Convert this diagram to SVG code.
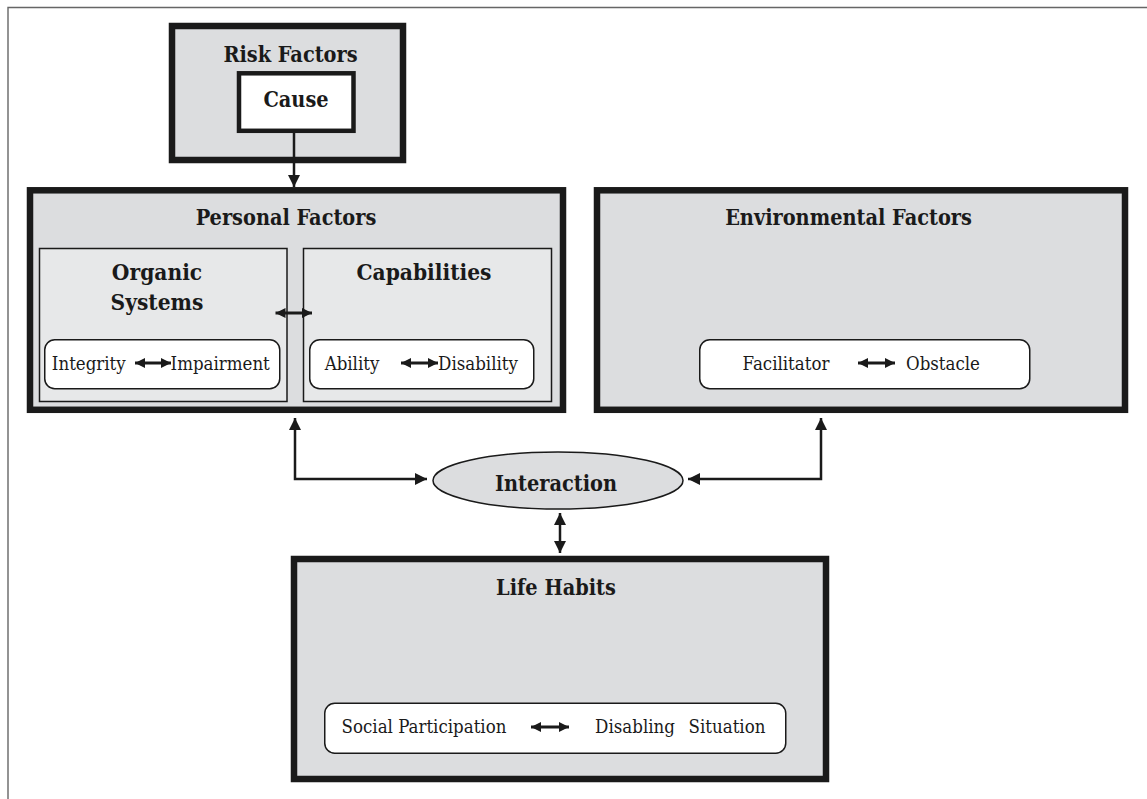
<svg xmlns="http://www.w3.org/2000/svg" width="1147" height="799" viewBox="0 0 1147 799">
<defs>
<style>
.box{fill:#dcdddf;stroke:#1a1a1a;stroke-width:6.5}
.sub{fill:#e7e8e9;stroke:#1a1a1a;stroke-width:1.5}
.pill{fill:#ffffff;stroke:#1a1a1a;stroke-width:1.5}
.ttl{font-family:"DejaVu Serif Condensed","DejaVu Serif","Liberation Serif",serif;font-stretch:condensed;font-weight:bold;font-size:21.5px;fill:#1a1a1a;text-anchor:middle}
.sttl{font-family:"DejaVu Serif Condensed","DejaVu Serif","Liberation Serif",serif;font-stretch:condensed;font-weight:bold;font-size:22.5px;fill:#1a1a1a;text-anchor:middle}
.txt{font-family:"DejaVu Serif Condensed","DejaVu Serif","Liberation Serif",serif;font-stretch:condensed;font-size:18.5px;fill:#1a1a1a;text-anchor:middle}
.conn{fill:none;stroke:#1a1a1a;stroke-width:2.5}
.dbl{fill:none;stroke:#1a1a1a;stroke-width:3}
</style>
<marker id="ah" viewBox="0 0 12 12" refX="12" refY="6" markerWidth="12" markerHeight="12" markerUnits="userSpaceOnUse" orient="auto-start-reverse">
<path d="M0,0 L12,6 L0,12 Z" fill="#1a1a1a"/>
</marker>
<marker id="sh" viewBox="0 0 10 10" refX="10" refY="5" markerWidth="10" markerHeight="10" markerUnits="userSpaceOnUse" orient="auto-start-reverse">
<path d="M0,0 L10,5 L0,10 Z" fill="#1a1a1a"/>
</marker>
</defs>
<rect width="1147" height="799" fill="#ffffff"/>
<path d="M8,799 V7.5 H1147" fill="none" stroke="#666" stroke-width="1.4"/>

<g id="risk-factors">
<rect class="box" x="172" y="26" width="231" height="134" stroke-width="6"/>
<text class="ttl" x="290.5" y="62">Risk Factors</text>
</g>
<g id="cause">
<rect x="239" y="73.3" width="114.5" height="57.5" fill="#fff" stroke="#1a1a1a" stroke-width="4.5"/>
<text class="ttl" x="296" y="107">Cause</text>
</g>

<g id="personal-factors">
<rect class="box" x="30" y="190.3" width="533" height="219.5"/>
<text class="ttl" x="286" y="225">Personal Factors</text>
</g>
<g id="organic-systems">
<rect class="sub" x="39.5" y="248.5" width="247.5" height="153"/>
<text class="sttl" x="157" y="280">Organic</text>
<text class="sttl" x="157" y="310">Systems</text>
<rect class="pill" x="44.75" y="339.75" width="235" height="49" rx="10"/>
<text class="txt" x="88.8" y="370">Integrity</text>
<text class="txt" x="220.2" y="370">Impairment</text>
</g>
<g id="capabilities">
<rect class="sub" x="303.5" y="248.5" width="248" height="153"/>
<text class="sttl" x="424" y="280">Capabilities</text>
<rect class="pill" x="309.75" y="339.75" width="224" height="49" rx="10"/>
<text class="txt" x="352" y="370">Ability</text>
<text class="txt" x="478" y="370">Disability</text>
</g>

<g id="environmental-factors">
<rect class="box" x="597" y="190.3" width="528" height="219.5"/>
<text class="ttl" x="848.5" y="225">Environmental Factors</text>
<rect class="pill" x="699.75" y="339.75" width="330" height="49" rx="10"/>
<text class="txt" x="786" y="370">Facilitator</text>
<text class="txt" x="943" y="370">Obstacle</text>
</g>

<g id="interaction">
<ellipse cx="558" cy="480.5" rx="125" ry="28.5" fill="#dcdddf" stroke="#1a1a1a" stroke-width="1.5"/>
<text class="ttl" x="556" y="491">Interaction</text>
</g>

<g id="life-habits">
<rect class="box" x="294" y="559" width="532" height="220" stroke-width="6"/>
<text class="ttl" x="556" y="595">Life Habits</text>
<rect class="pill" x="324.75" y="703.25" width="461" height="50" rx="10"/>
<text class="txt" x="424" y="733">Social Participation</text>
<text class="txt" x="635" y="733">Disabling</text>
<text class="txt" x="727" y="733">Situation</text>
</g>

<g id="connectors">
<path class="conn" d="M294,133 V187" marker-end="url(#ah)"/>
<path class="conn" d="M295,418 V479 H427" marker-start="url(#ah)" marker-end="url(#ah)"/>
<path class="conn" d="M821,418 V479 H688" marker-start="url(#ah)" marker-end="url(#ah)"/>
<path class="conn" d="M560,513 V553" marker-start="url(#ah)" marker-end="url(#ah)"/>
<path class="dbl" d="M275.5,313 H312" marker-start="url(#sh)" marker-end="url(#sh)"/>
<path class="dbl" d="M135,363 H171" marker-start="url(#sh)" marker-end="url(#sh)"/>
<path class="dbl" d="M401,363 H438" marker-start="url(#sh)" marker-end="url(#sh)"/>
<path class="dbl" d="M858,363 H895" marker-start="url(#sh)" marker-end="url(#sh)"/>
<path class="dbl" d="M531,727 H569" marker-start="url(#sh)" marker-end="url(#sh)"/>
</g>
</svg>
